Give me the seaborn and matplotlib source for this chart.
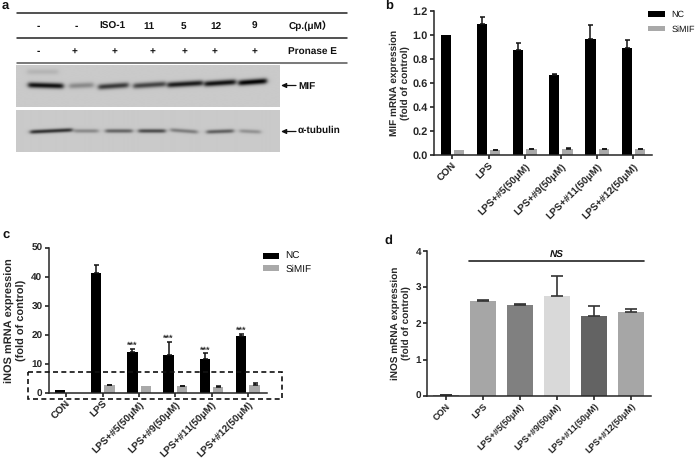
import numpy as np
import pandas as pd
import seaborn as sns
from matplotlib import pyplot as plt
from matplotlib.patches import Rectangle
from matplotlib.transforms import ScaledTranslation

W, H = 698, 459

groups = ['CON', 'LPS', 'LPS+#5(50\u03bcM)', 'LPS+#9(50\u03bcM)', 'LPS+#11(50\u03bcM)', 'LPS+#12(50\u03bcM)']

# panel b
b_nc = [1.0, 1.09, 0.875, 0.67, 0.965, 0.89]
b_nc_err = [0, 0.06, 0.055, 0.01, 0.12, 0.07]
b_si = [0.045, 0.04, 0.05, 0.055, 0.05, 0.05]
b_si_err = [0, 0.006, 0.006, 0.006, 0.005, 0.005]

# panel c
c_nc = [1.1, 41.2, 14.2, 13.2, 11.8, 19.8]
c_nc_err = [0, 2.9, 1.0, 4.4, 1.9, 0.6]
c_si = [0, 2.7, 2.6, 2.4, 2.3, 2.8]
c_si_err = [0, 0.1, 0, 0.1, 0.3, 0.8]
c_stars = [None, None, '***', '***', '***', '***']

# panel d
d_val = [0.03, 2.63, 2.52, 2.76, 2.2, 2.31]
d_err = [0, 0.02, 0.01, 0.56, 0.27, 0.1]
d_col = ['#a6a6a6', '#a6a6a6', '#808080', '#d9d9d9', '#636363', '#a6a6a6']

# panel a, table headers
lane_x1 = [38, 76, 112, 149, 183, 216, 254]
lane_x2 = [38, 75, 115, 152, 185, 215, 254]
cp_labels = ['-', '-', 'ISO-1', '11', '5', '12', '9']
pronase_labels = ['-', '+', '+', '+', '+', '+', '+']

# panel a, bands (pixels in the picture)
mif_left = [28, 69, 98, 133, 167, 204, 238]
mif_right = [63, 93, 128, 165, 202, 235, 266]
mif_y0 = [85, 86, 87, 86, 85, 84, 83]
mif_y1 = [86, 85, 85, 84, 83, 82, 81]
mif_dark = [0.72, 0.25, 0.56, 0.52, 0.68, 0.72, 0.78]
smear_left = [27]
smear_right = [58]
smear_y = [72]
smear_dark = [0.08]

tub_left = [30, 74, 105, 138, 170, 206, 239]
tub_right = [72, 98, 132, 165, 197, 233, 260]
tub_y0 = [132, 131, 131, 131, 130, 132, 131]
tub_y1 = [130, 131, 131, 131, 132, 131, 132]
tub_dark = [0.6, 0.25, 0.4, 0.5, 0.3, 0.42, 0.22]

BOLD = 'bold'

sns.set_style('white')
plt.rcParams['font.family'] = ['Liberation Sans', 'DejaVu Sans']
plt.rcParams['axes.linewidth'] = 1.1
plt.rcParams['text.color'] = '#111111'
plt.rcParams['text.hinting'] = 'no_hinting'
plt.rcParams['text.hinting_factor'] = 1

fig = plt.figure(figsize=(W / 100, H / 100), dpi=100)


def px_axes(left, top, right, bottom):
    return fig.add_axes([left / W, 1 - bottom / H, (right - left) / W, (bottom - top) / H])


def style_axis(ax, ylabel, yticks, fmt, ymax, xlim, ysize, labelsize, labelpad, xsize=7.2):
    ax.set_xlim(*xlim)
    ax.set_ylim(0, ymax)
    ax.set_yticks(yticks)
    ax.set_yticklabels([fmt.format(t) for t in yticks], fontsize=ysize, fontweight=BOLD)
    ax.set_xticks(range(len(groups)))
    ax.set_xticklabels(groups, rotation=45, ha='right', rotation_mode='anchor',
                       fontsize=xsize, fontweight=BOLD)
    shift = ScaledTranslation(-3 / 100, 2 / 100, fig.dpi_scale_trans)
    for lab in ax.get_xticklabels():
        lab.set_transform(lab.get_transform() + shift)
    ax.tick_params(axis='both', length=3, width=1.1, pad=1.5, bottom=True, left=True, color='#111111')
    ax.set_xlabel('')
    ax.set_ylabel(ylabel, fontsize=labelsize, fontweight=BOLD, labelpad=labelpad, linespacing=1.25)
    sns.despine(ax=ax)
    ax.patch.set_alpha(0)


def grouped_bars(ax, nc, si, nc_err, si_err, caps):
    df = pd.DataFrame({'group': groups, 'NC': nc, 'SiMIF': si})
    long_df = df.melt(id_vars='group', var_name='kind', value_name='value')
    sns.barplot(data=long_df, x='group', y='value', hue='kind', order=groups,
                palette={'NC': '#000000', 'SiMIF': '#a9a9a9'}, width=0.737, gap=0.225,
                errorbar=None, saturation=1, linewidth=0, ax=ax, legend=False)
    for cont, vals, errs in zip(ax.containers, [nc, si], [nc_err, si_err]):
        xs = [p.get_x() + p.get_width() / 2 for p in cont.patches]
        for x, v, e in zip(xs, vals, errs):
            if e > 0:
                ax.errorbar(x, v, yerr=[[0], [e]], color='#111111', lw=1.1, capsize=caps, capthick=1.1)


def legend_for(ax, x, y, size, hlen, pad, spacing):
    ax.legend(ax.containers[0].patches[:1] + ax.containers[1].patches[:1], ['NC', 'SiMIF'],
              loc='upper left', bbox_to_anchor=(x / W, 1 - y / H), bbox_transform=fig.transFigure,
              frameon=False, fontsize=size, handlelength=hlen, handleheight=0.55,
              handletextpad=pad, labelspacing=spacing, borderpad=0, borderaxespad=0)


# b
ax_b = px_axes(434, 11, 652, 155.3)
grouped_bars(ax_b, b_nc, b_si, b_nc_err, b_si_err, 1.8)
style_axis(ax_b, 'MIF mRNA expression\n(fold of control)', [0, 0.2, 0.4, 0.6, 0.8, 1.0, 1.2], '{:.1f}', 1.2,
           (-0.51, 5.516), 7.8, 7.5, 2)
legend_for(ax_b, 648, 10.5, 6.2, 1.97, 0.75, 0.75)

# c
ax_c = px_axes(48.7, 247.7, 266.7, 393.3)
grouped_bars(ax_c, c_nc, c_si, c_nc_err, c_si_err, 1.8)
style_axis(ax_c, 'iNOS mRNA expression\n(fold of control)', [0, 10, 20, 30, 40, 50], '{:d}', 50,
           (-0.49, 5.52), 7.4, 7.7, 3)
legend_for(ax_c, 262.5, 252, 7, 1.7, 0.65, 0.32)
for i, s in enumerate(c_stars):
    if s:
        ax_c.text(i - 0.185, c_nc[i] + c_nc_err[i] - 0.4, s, ha='center', va='bottom', fontsize=6.5,
                  fontweight=BOLD, color='#333333', linespacing=0.8)

# d
ax_d = px_axes(427.3, 251, 650.7, 395.7)
sns.barplot(x=groups, y=d_val, hue=groups, palette=d_col, width=0.7, errorbar=None, saturation=1,
            linewidth=0, ax=ax_d, legend=False)
ax_d.errorbar(range(len(groups)), d_val, yerr=[[0] * len(d_err), d_err], fmt='none', ecolor='#333333',
              elinewidth=1.2, capsize=4.4, capthick=1.2)
style_axis(ax_d, 'iNOS mRNA expression\n(fold of control)', [0, 1, 2, 3, 4], '{:d}', 4,
           (-0.494, 5.52), 7.4, 7.5, 3, xsize=6.8)
ax_d.plot([0.63, 5.33], [3.72, 3.72], color='#222222', lw=1.2)
ax_d.text(3.0, 3.76, 'NS', ha='center', va='bottom', fontsize=7.5, fontweight=BOLD, style='italic')

# a and everything placed in picture pixels
over = fig.add_axes([0, 0, 1, 1])
over.axis('off')
over.patch.set_alpha(0)


def blot(extent, left, right, y0, y1, dark, thick, extra=None):
    x0, x1, top, bottom = extent
    xx, yy = np.meshgrid(np.arange(x0, x1, 0.5), np.arange(top, bottom, 0.5))
    img = np.full(xx.shape, 0.79)
    bands = list(zip(left, right, y0, y1, dark))
    if extra:
        bands += extra
    for l, r, a, b, d in bands:
        ramp = np.clip((xx - l) / (r - l), 0, 1)
        cy = a + (b - a) * ramp
        across = 0.5 * (np.tanh((xx - l) / 2.5) - np.tanh((xx - r) / 2.5))
        img -= d * across * np.exp(-((yy - cy) / thick) ** 2)
    img = np.clip(img, 0, 1)
    over.imshow(img, cmap='gray', vmin=0, vmax=1, extent=(x0, x1, bottom, top), aspect='auto',
                interpolation='bilinear')


smear = [(l, r, y, y, d) for l, r, y, d in zip(smear_left, smear_right, smear_y, smear_dark)]
blot((16, 279.5, 65.5, 107), mif_left, mif_right, mif_y0, mif_y1, mif_dark, 2.8, extra=smear)
blot((16, 279.5, 110.3, 152), tub_left, tub_right, tub_y0, tub_y1, tub_dark, 2.0)
over.set_xlim(0, W)
over.set_ylim(H, 0)

for y, c in [(12.7, '#222222'), (38, '#222222'), (63.3, '#555555')]:
    over.plot([17, 347], [y, y], color=c, lw=1.1)

for x, s in zip(lane_x1, cp_labels):
    over.text(x, 26, s, ha='center', va='center', fontsize=7, fontweight=BOLD)
for x, s in zip(lane_x2, pronase_labels):
    over.text(x, 51.7, s, ha='center', va='center', fontsize=7, fontweight=BOLD)
over.text(310, 26, 'Cp.(\u03bcM\uff09', ha='center', va='center', fontsize=7,
          fontweight=BOLD, family=['Liberation Sans', 'Noto Sans CJK SC'])
over.text(312, 51.7, 'Pronase E', ha='center', va='center', fontsize=7, fontweight=BOLD)
over.text(298, 86.5, 'MIF', ha='left', va='center', fontsize=7.3, fontweight=BOLD)
over.text(298, 130, '\u03b1-tubulin', ha='left', va='center', fontsize=7.3, fontweight=BOLD)
for y in [85.5, 131.5]:
    over.annotate('', xy=(281, y), xytext=(296, y),
                  arrowprops=dict(arrowstyle='-|>,head_width=0.14,head_length=0.3', color='#111111', lw=0.9,
                                  shrinkA=0, shrinkB=0))

for x, y, s in [(5, 6, 'a'), (389, 6, 'b'), (6.5, 235, 'c'), (388, 241, 'd')]:
    over.text(x, y, s, ha='center', va='center', fontsize=9, fontweight=BOLD)

# dashed box around the low part of panel c
over.add_patch(Rectangle((28.3, 371.7), 253.7, 27.6, fill=False, ec='#111111', lw=1.2, ls=(0, (3, 2))))

fig.savefig('out.png', dpi=100)
